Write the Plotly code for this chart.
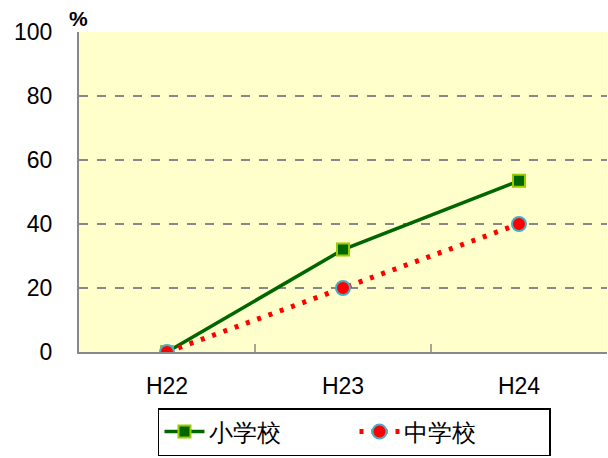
import plotly.graph_objects as go

# Survey years and rates (%)
years = ["H22", "H23", "H24"]
elementary = [0, 32, 53.5]
junior_high = [0, 20, 40]
y_ticks = [0, 20, 40, 60, 80, 100]

fig = go.Figure()

fig.add_trace(go.Scatter(
    x=years, y=elementary, name="小学校", mode="lines+markers",
    line=dict(color="#006600", width=3.5),
    marker=dict(symbol="square", size=12, color="#006600",
                line=dict(color="#99cc00", width=2)),
))
fig.add_trace(go.Scatter(
    x=years, y=junior_high, name="中学校", mode="lines+markers",
    line=dict(color="#ff0000", width=5, dash="4px,8px"),
    marker=dict(symbol="circle", size=14, color="#ff0000",
                line=dict(color="#4bacc6", width=2)),
))

fig.update_layout(
    width=608, height=458,
    margin=dict(l=79, r=1, t=32, b=106, autoexpand=False),
    paper_bgcolor="white",
    plot_bgcolor="#ffffcc",
    font=dict(family="Liberation Sans, Arial, sans-serif", size=23, color="black"),
    showlegend=True,
    legend=dict(
        orientation="h", x=0.1496, y=-0.175, xanchor="left", yanchor="top",
        bordercolor="black", borderwidth=1.5, bgcolor="white",
        font=dict(size=24), entrywidth=140, entrywidthmode="pixels",
        tracegroupgap=0, itemwidth=40,
    ),
    xaxis=dict(
        type="category", range=[-0.5, 2.5],
        showgrid=False, showline=True, linecolor="#888888", linewidth=2,
        ticks="", tickfont=dict(size=23), ticklabelstandoff=12,
    ),
    yaxis=dict(
        range=[0, 100], tickvals=y_ticks, showline=True,
        linecolor="#888888", linewidth=2,
        showgrid=True, gridcolor="#888888", gridwidth=1.5, griddash="dash",
        zeroline=False, ticks="", tickfont=dict(size=23), ticklabelstandoff=20,
    ),
    annotations=[dict(
        text="<b>%</b>", x=0, y=1, xref="paper", yref="paper",
        xanchor="left", yanchor="bottom", showarrow=False,
        font=dict(size=21), xshift=-12, yshift=0,
    )],
)

# Category boundary tick marks drawn along the bottom axis
for b in [0.5, 1.5]:
    fig.add_shape(type="line", xref="x", yref="y", x0=b, x1=b, y0=0, y1=2.5,
                  line=dict(color="#888888", width=1.5))

fig.write_html("out.html")
